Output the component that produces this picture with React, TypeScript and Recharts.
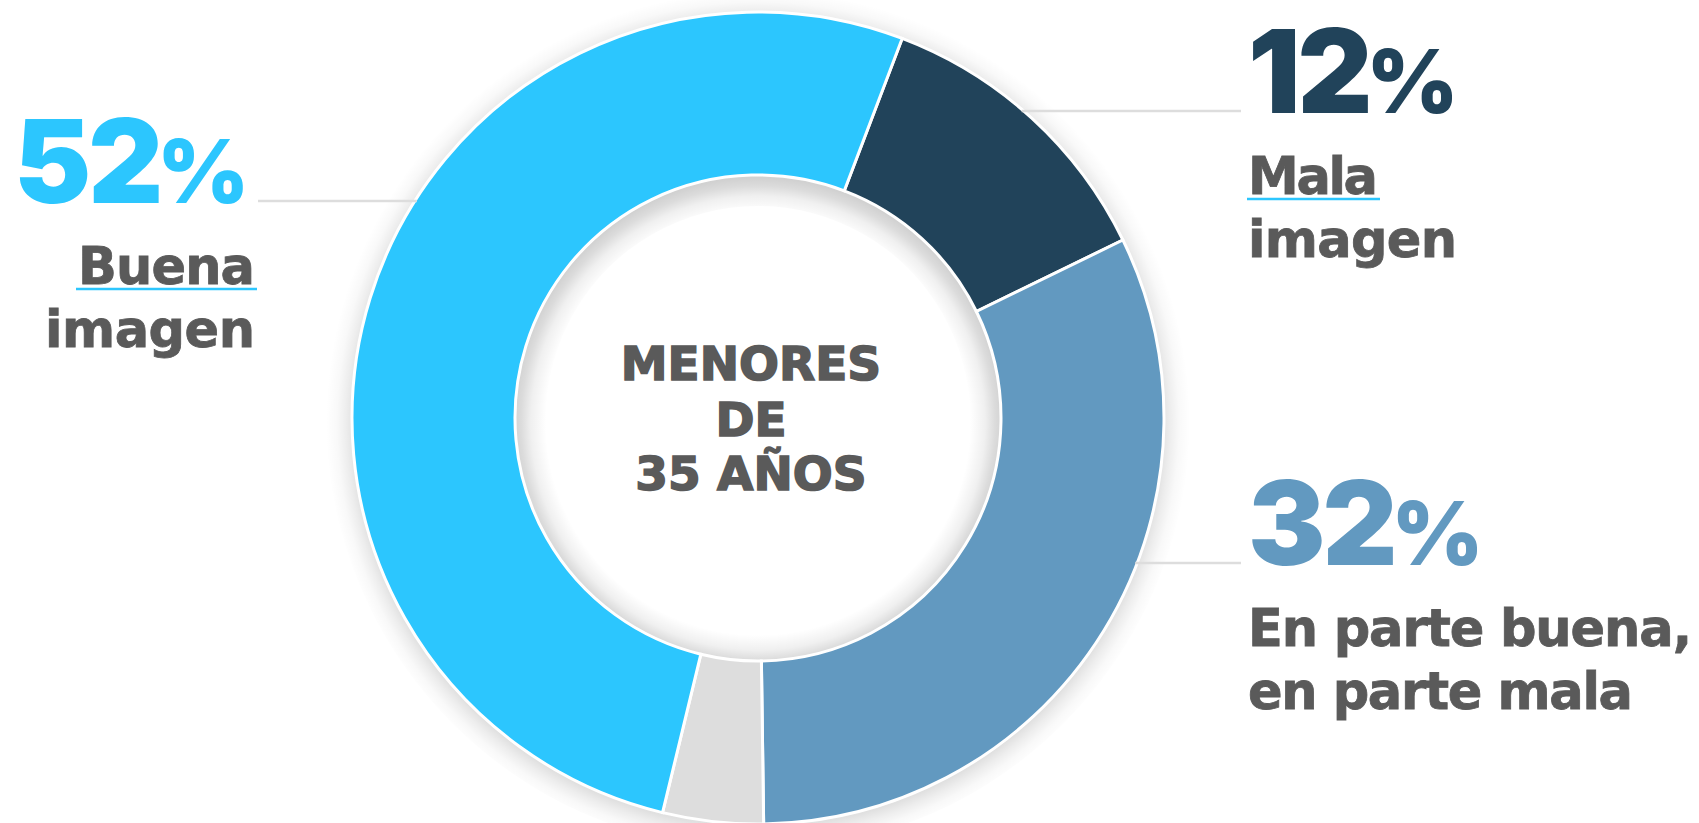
import { PieChart, Pie, Cell } from 'recharts';

const categories = ['Mala imagen', 'En parte buena, en parte mala', 'NS/NC', 'Buena imagen'];
const values = [12, 32, 4, 52];
const sliceColors = ['#21435A', '#6299C0', '#DDDDDD', '#2CC6FE'];
const labelText = [['Mala', 'imagen'], ['En parte buena,', 'en parte mala'], [], ['Buena', 'imagen']];
const centerText = ['MENORES', 'DE', '35 AÑOS'];

const data = categories.map((name, i) => ({ name, value: values[i] }));

// label placement, relative to the pie centre; widths are the text line lengths
const labelLayout = [
  { lineDy: -307, side: 'right', numX: 490, textX: 490, underline: 133, widths: [130, 209] },
  { lineDy: 145, side: 'right', numX: 490, textX: 490, underline: 0, widths: [444, 385] },
  null,
  { lineDy: -217, side: 'left', numX: 512, textX: 503, underline: 181, widths: [177, 210] },
];

const W = 1699;
const H = 823;
const CX = 758;
const CY = 418;
const OUTER = 406;
const INNER = 243;
const HALO = 432;
const HALO_IN = 212;

const numFont = "Inter, Lato, 'Noto Sans', sans-serif";
const textFont = "'DejaVu Sans', 'Noto Sans', sans-serif";
const textColor = '#5A5A5A';

const renderLabel = (props: any) => {
  const { cx, cy, outerRadius, index } = props;
  const lay = labelLayout[index];
  if (!lay) return <g />;
  const lineY = cy + lay.lineDy;
  const edge = Math.sqrt(outerRadius * outerRadius - lay.lineDy * lay.lineDy);
  const right = lay.side === 'right';
  const numX = right ? cx + lay.numX : cx - lay.numX;
  const textX = right ? cx + lay.textX : cx - lay.textX;
  const anchor = right ? 'start' : 'end';
  const x1 = right ? cx + edge - 2 : numX + 12;
  const x2 = right ? numX - 7 : cx - edge + 2;
  const lines = labelText[index];
  return (
    <g>
      <line x1={x1} x2={x2} y1={lineY} y2={lineY} stroke="#DDDDDD" strokeWidth={2.5} />
      <text
        x={numX}
        y={lineY + 1.5}
        textAnchor={anchor}
        fill={sliceColors[index]}
        fontFamily={numFont}
        fontWeight={900}
        letterSpacing={-3}
      >
        <tspan fontSize={116}>{values[index]}</tspan>
        <tspan fontSize={88} dx={-3}>%</tspan>
      </text>
      {lay.underline > 0 && (
        <line
          x1={right ? textX - 1 : textX + 2 - lay.underline}
          x2={right ? textX - 1 + lay.underline : textX + 2}
          y1={lineY + 88}
          y2={lineY + 88}
          stroke="#2CC6FE"
          strokeWidth={2.5}
        />
      )}
      {lines.map((t, i) => (
        <text
          key={t}
          x={textX}
          y={lineY + 83 + i * 63}
          textAnchor={anchor}
          textLength={lay.widths[i]}
          lengthAdjust="spacing"
          fill={textColor}
          stroke={textColor}
          strokeWidth={0.8}
          fontFamily={textFont}
          fontWeight={700}
          fontSize={51}
        >
          {t}
        </text>
      ))}
    </g>
  );
};

const r = (v: number) => v / HALO;

export default function App() {
  return (
    <div style={{ position: 'absolute', left: 0, top: 0, width: W, height: H, background: '#fff' }}>
      <svg width={0} height={0} style={{ position: 'absolute' }}>
        <defs>
          <radialGradient id="ringHalo" gradientUnits="userSpaceOnUse" cx={CX} cy={CY + 5} r={HALO}>
            <stop offset={r(HALO_IN)} stopColor="#000" stopOpacity={0} />
            <stop offset={r(INNER - 16)} stopColor="#000" stopOpacity={0.06} />
            <stop offset={r(INNER - 6)} stopColor="#000" stopOpacity={0.14} />
            <stop offset={r(INNER + 2)} stopColor="#000" stopOpacity={0.18} />
            <stop offset={r(OUTER - 2)} stopColor="#000" stopOpacity={0.12} />
            <stop offset={r(OUTER + 6)} stopColor="#000" stopOpacity={0.07} />
            <stop offset={r(OUTER + 15)} stopColor="#000" stopOpacity={0.025} />
            <stop offset={1} stopColor="#000" stopOpacity={0} />
          </radialGradient>
        </defs>
      </svg>
      <PieChart width={W} height={H} margin={{ top: 0, right: 0, bottom: 0, left: 0 }}>
        <Pie
          data={[{ name: 'halo', value: 1 }]}
          dataKey="value"
          cx={CX}
          cy={CY}
          innerRadius={HALO_IN}
          outerRadius={HALO}
          startAngle={0}
          endAngle={360}
          stroke="none"
          isAnimationActive={false}
        >
          <Cell fill="url(#ringHalo)" />
        </Pie>
        <Pie
          data={data}
          dataKey="value"
          cx={CX}
          cy={CY}
          innerRadius={INNER}
          outerRadius={OUTER}
          startAngle={69.2}
          endAngle={-290.8}
          stroke="#FFFFFF"
          strokeWidth={3}
          label={renderLabel}
          labelLine={false}
          isAnimationActive={false}
        >
          {data.map((entry, index) => (
            <Cell key={`cell-${index}`} fill={sliceColors[index]} />
          ))}
        </Pie>
        {centerText.map((t, i) => (
          <text
            key={t}
            x={CX - 7}
            y={CY - 38 + i * 56 - (i === 2 ? 2 : 0)}
            textAnchor="middle"
            fill={textColor}
            stroke={textColor}
            strokeWidth={1.6}
            fontFamily={textFont}
            fontWeight={700}
            fontSize={47}
          >
            {t}
          </text>
        ))}
      </PieChart>
    </div>
  );
}
